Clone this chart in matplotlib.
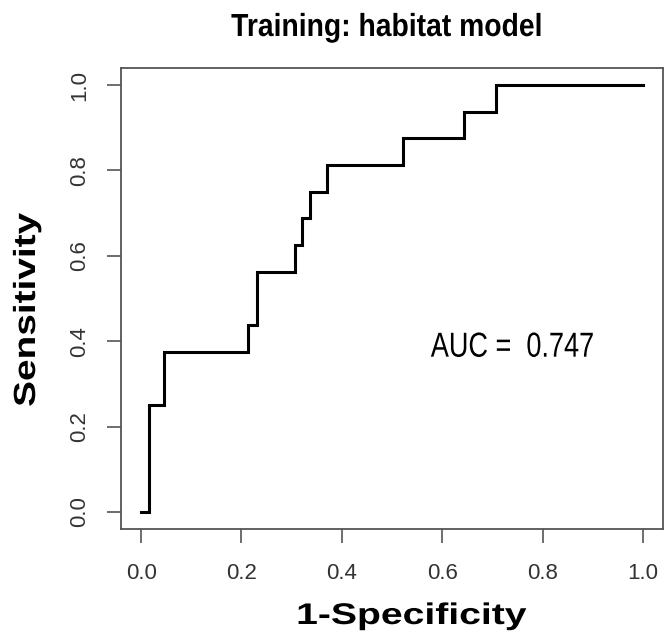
import matplotlib
matplotlib.use("Agg")
import matplotlib.pyplot as plt
from matplotlib.patheffects import AbstractPathEffect
from matplotlib.transforms import Affine2D

# ROC curve for the habitat model (training data)
fpr = [0.0, 0.0166, 0.046, 0.213, 0.2306, 0.306, 0.321, 0.337, 0.370,
       0.5215, 0.644, 0.707, 1.0]
tpr = [0.0, 0.25, 0.375, 0.4375, 0.5625, 0.625, 0.6875, 0.75, 0.8125,
       0.875, 0.9375, 1.0, 1.0]
ticks = [0.0, 0.2, 0.4, 0.6, 0.8, 1.0]
tick_labels = ["0.0", "0.2", "0.4", "0.6", "0.8", "1.0"]
auc_value = 0.747
title = "Training: habitat model"


class Stretch(AbstractPathEffect):
    """Scale rendered glyphs about their own centre (narrow / wide lettering)."""

    def __init__(self, sx=1.0, sy=1.0):
        super().__init__()
        self.sx, self.sy = sx, sy

    def draw_path(self, renderer, gc, tpath, affine, rgbFace=None):
        ext = tpath.get_extents(affine)
        cx, cy = (ext.x0 + ext.x1) / 2, (ext.y0 + ext.y1) / 2
        aff = affine + Affine2D().translate(-cx, -cy).scale(self.sx, self.sy).translate(cx, cy)
        renderer.draw_path(gc, tpath, aff, rgbFace)


W, H = 664, 636
fig = plt.figure(figsize=(W / 100, H / 100), dpi=100)
fig.patch.set_facecolor("white")

left, right, top, bottom = 121, 663, 68, 529
ax = fig.add_axes([left / W, 1 - bottom / H, (right - left) / W, (bottom - top) / H])

ax.step(fpr, tpr, where="post", color="black", lw=2.2, solid_joinstyle="miter")

ax.set_xlim(-0.04, 1.04)
ax.set_ylim(-0.04, 1.04)

ax.set_xticks(ticks)
ax.set_xticklabels(tick_labels)
ax.set_yticks(ticks)
ax.set_yticklabels(tick_labels, rotation=90, va="center")

frame_col = "#555555"
for s in ax.spines.values():
    s.set_color(frame_col)
    s.set_linewidth(1.3)

ax.tick_params(axis="both", direction="out", length=10, width=1.2,
               color=frame_col, labelsize=16, labelcolor="#333333",
               labelfontfamily="Liberation Sans")
ax.tick_params(axis="x", pad=14.5)
ax.tick_params(axis="y", pad=12)

ax.set_xlabel("1-Specificity", fontsize=21.5, fontweight="bold",
              family="Liberation Sans", va="baseline",
              path_effects=[Stretch(sx=1.31)])
ax.xaxis.set_label_coords((411.7 - left) / (right - left), (bottom - 624) / (bottom - top))

ax.set_ylabel("Sensitivity", fontsize=22, fontweight="bold",
              family="Liberation Sans", va="baseline",
              path_effects=[Stretch(sy=1.27)])
ax.yaxis.set_label_coords((35 - left) / (right - left), (bottom - 310) / (bottom - top))

ax.text(0.740, 0.3637, f"AUC =  {auc_value}", ha="center", va="baseline",
        fontsize=25, family="Liberation Sans", color="black",
        path_effects=[Stretch(sx=0.78)])

fig.text(387 / W, 1 - 36 / H, title, ha="center", va="baseline",
         fontsize=23, fontweight="bold", family="Liberation Sans",
         path_effects=[Stretch(sx=0.886)])

fig.savefig("out.png", dpi=100, facecolor="white")
